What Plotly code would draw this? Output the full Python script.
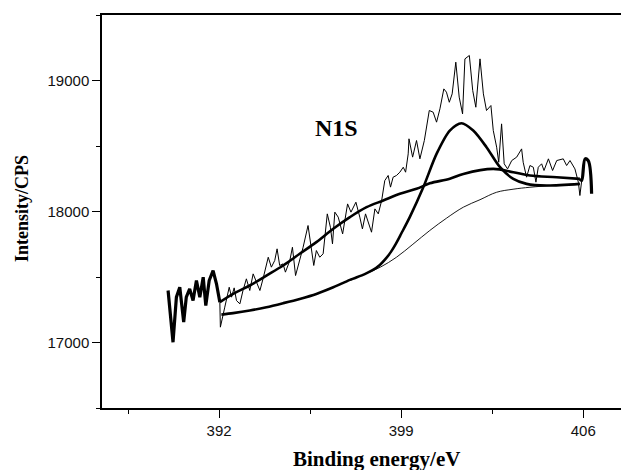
import plotly.graph_objects as go

# Raw XPS data (thin noisy line), binding energy (eV) and intensity (CPS)
raw_x = [392.03, 392.05, 392.22, 392.39, 392.48, 392.58, 392.67, 392.80, 392.92, 393.05,
         393.18, 393.31, 393.44, 393.57, 393.69, 393.89, 394.01, 394.14, 394.23, 394.33,
         394.46, 394.55, 394.72, 394.82, 394.94, 395.07, 395.23, 395.42, 395.55, 395.64,
         395.74, 395.87, 396.00, 396.16, 396.28, 396.36, 396.45, 396.58, 396.75, 396.94,
         397.07, 397.26, 397.41, 397.51, 397.63, 397.76, 397.86, 397.99, 398.12, 398.25,
         398.37, 398.50, 398.59, 398.69, 398.82, 398.95, 399.08, 399.17, 399.27, 399.30,
         399.44, 399.59, 399.72, 399.89, 400.08, 400.23, 400.36, 400.49, 400.64, 400.74,
         400.85, 400.96, 401.10, 401.23, 401.36, 401.45, 401.62, 401.75, 401.87, 402.03,
         402.16, 402.28, 402.45, 402.54, 402.67, 402.75, 402.86, 402.96, 403.09, 403.25,
         403.44, 403.63, 403.69, 403.82, 403.95, 404.08, 404.18, 404.27, 404.40, 404.49,
         404.66, 404.82, 404.98, 405.23, 405.36, 405.49, 405.68, 405.81, 405.87, 405.94]
raw_y = [17307, 17117, 17270, 17422, 17346, 17417, 17320, 17295, 17397, 17486,
         17397, 17524, 17460, 17397, 17486, 17651, 17575, 17626, 17715, 17588,
         17600, 17537, 17626, 17727, 17511, 17600, 17727, 17893, 17727, 17588,
         17702, 17651, 17677, 17982, 17880, 17753, 17995, 17957, 17829, 18058,
         17995, 18071, 17957, 17867, 17982, 17906, 17842, 18020, 17982, 18084,
         18236, 18275, 18186, 18262, 18275, 18300, 18338, 18300, 18440, 18555,
         18415, 18542, 18402, 18542, 18771, 18758, 18682, 18784, 18936, 18911,
         18834, 18898, 19140, 18873, 18745, 19165, 19191, 18924, 18796, 19165,
         18898, 18771, 18809, 18618, 18491, 18376, 18669, 18364, 18325, 18389,
         18415, 18478, 18376, 18262, 18351, 18338, 18224, 18338, 18364, 18313,
         18402, 18313, 18389, 18402, 18351, 18389, 18325, 18224, 18122, 18237]

# Raw data edges drawn heavy
left_x = [390.04, 390.23, 390.36, 390.49, 390.64, 390.74, 390.87, 391.00, 391.13, 391.26,
          391.39, 391.49, 391.62, 391.77, 391.90, 392.03]
left_y = [17397, 17002, 17346, 17422, 17155, 17346, 17409, 17320, 17473, 17346,
          17498, 17282, 17473, 17549, 17448, 17307]
right_x = [405.87, 405.94, 406.07, 406.19, 406.32]
right_y = [18250, 18237, 18402, 18389, 18135]

# Broad component (thick)
broad_x = [392.03, 392.54, 393.18, 393.82, 394.46, 395.10, 395.74, 396.39, 397.03, 397.67,
           398.31, 398.95, 399.59, 400.10, 400.87, 401.39, 402.54, 403.31, 403.95, 404.98, 405.87]
broad_y = [17308, 17371, 17435, 17511, 17588, 17677, 17766, 17868, 17957, 18033,
           18084, 18135, 18173, 18215, 18250, 18287, 18325, 18300, 18275, 18262, 18249]

# Main peak + background (thick)
peak_x = [392.09, 392.54, 393.18, 393.82, 394.46, 395.10, 395.74, 396.39, 397.03, 397.60,
          397.90, 398.18, 398.40, 398.60, 398.80, 399.00, 399.33, 399.85, 400.36, 400.87,
          401.32, 401.77, 402.28, 402.80, 403.31, 403.82, 404.59, 405.87]
peak_y = [17213, 17224, 17244, 17269, 17300, 17333, 17371, 17422, 17478, 17522,
          17552, 17592, 17638, 17690, 17755, 17830, 17957, 18185, 18440, 18618,
          18674, 18618, 18491, 18338, 18249, 18211, 18198, 18211]

# Background (thin smooth)
bg_x = [397.60, 398.20, 398.82, 399.45, 400.10, 400.75, 401.39, 402.03, 402.67, 403.30,
        403.95, 404.90, 405.87]
bg_y = [17522, 17575, 17651, 17750, 17855, 17950, 18033, 18090, 18147, 18170,
        18185, 18200, 18211]

fig = go.Figure()
line_black = "black"
fig.add_trace(go.Scatter(x=raw_x, y=raw_y, mode="lines", line=dict(color=line_black, width=1)))
fig.add_trace(go.Scatter(x=bg_x, y=bg_y, mode="lines", line=dict(color=line_black, width=0.9, shape="spline")))
fig.add_trace(go.Scatter(x=broad_x, y=broad_y, mode="lines", line=dict(color=line_black, width=2.6, shape="spline")))
fig.add_trace(go.Scatter(x=peak_x, y=peak_y, mode="lines", line=dict(color=line_black, width=2.6, shape="spline", smoothing=0.8)))
fig.add_trace(go.Scatter(x=left_x, y=left_y, mode="lines", line=dict(color=line_black, width=3.2)))
fig.add_trace(go.Scatter(x=right_x, y=right_y, mode="lines", line=dict(color=line_black, width=3.2, shape="spline")))

fig.update_layout(
    width=621, height=470,
    margin=dict(l=102, r=0, t=15, b=62),
    paper_bgcolor="white", plot_bgcolor="white",
    showlegend=False,
    font=dict(family="Liberation Sans, Arial, sans-serif", size=15, color="#111"),
)
fig.update_xaxes(
    range=[387.5, 407.45], showgrid=False, zeroline=False,
    showline=True, linecolor="black", linewidth=1.5, mirror=True,
    ticks="outside", ticklen=8, tickwidth=1.2, tickcolor="black",
    tick0=392, dtick=7,
    minor=dict(ticks="outside", ticklen=4, tickwidth=1.2, tickcolor="black", tick0=388.5, dtick=7),
    tickfont=dict(size=15),
)
fig.update_yaxes(
    range=[16500, 19500], showgrid=False, zeroline=False,
    showline=True, linecolor="black", linewidth=1.5, mirror=False,
    ticks="outside", ticklen=8, tickwidth=1.2, tickcolor="black",
    tick0=17000, dtick=1000, tickformat="d",
    minor=dict(ticks="outside", ticklen=4, tickwidth=1.2, tickcolor="black", dtick=500),
    tickfont=dict(size=15),
)

title_font = "Liberation Serif, Times New Roman, serif"
fig.add_annotation(text="<b>Binding energy/eV</b>", xref="paper", yref="paper",
                   x=(376 - 102) / 519, y=(408 - 459) / 393, showarrow=False,
                   font=dict(family=title_font, size=21, color="black"),
                   xanchor="center", yanchor="middle")
fig.add_annotation(text="<b>Intensity/CPS</b>", xref="paper", yref="paper",
                   x=(22 - 102) / 519, y=(408 - 209) / 393, showarrow=False, textangle=-90,
                   font=dict(family=title_font, size=18, color="black"),
                   xanchor="center", yanchor="middle")
fig.add_annotation(text="<b>N1S</b>", xref="x", yref="y", x=396.53, y=18641, showarrow=False,
                   font=dict(family=title_font, size=24, color="black"),
                   xanchor="center", yanchor="middle")

fig.write_html("out.html")
